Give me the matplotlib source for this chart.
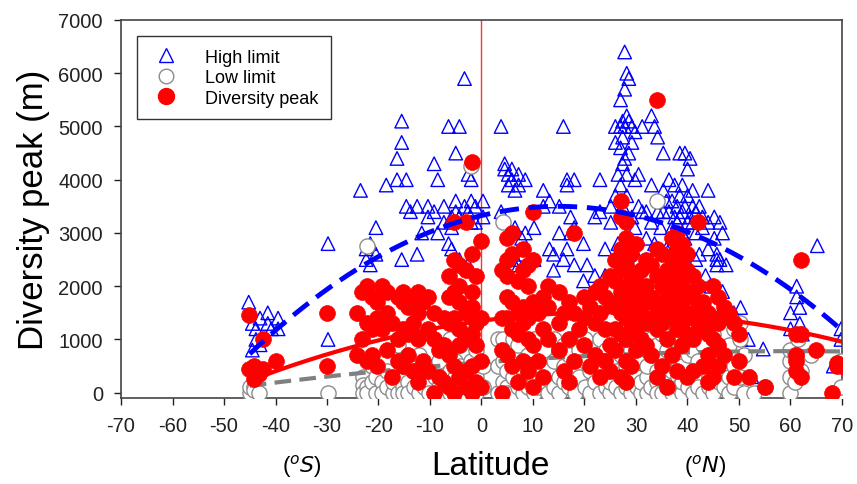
import numpy as np
import matplotlib
matplotlib.use("Agg")
import matplotlib.pyplot as plt
from matplotlib.lines import Line2D

plt.rcParams['font.family'] = ['Liberation Sans', 'DejaVu Sans']
plt.rcParams['axes.unicode_minus'] = False

# ---------------- data ----------------
# (latitude, [elevations]) groups
high_groups = [
    (-45.2, [1700]), (-44.5, [1300, 800]), (-43.8, [1200, 1000]), (-43.0, [1400, 900]),
    (-41.5, [1500, 1300]), (-40.8, [1200]), (-39.5, [1400, 1200]),
    (-29.8, [2800, 1000]), (-23.5, [3800]), (-22.4, [2500, 2700]), (-21.6, [2400, 2800]),
    (-20.5, [3100, 2600]), (-18.5, [3900]), (-16.4, [4400, 4000]), (-15.5, [4700, 5100, 2500]),
    (-14.6, [4000, 3500]), (-13.8, [3400]), (-12.5, [3500, 2600]), (-11.6, [3000]),
    (-10.4, [3300, 3500]), (-9.2, [3400, 4300]), (-8.5, [4000, 3000]), (-7.3, [3200, 3500]),
    (-6.4, [5000, 2800]), (-5.8, [3300, 3100, 2700]), (-5.0, [3400, 4500, 3600]),
    (-4.3, [5000, 3300, 2500]), (-3.3, [5900, 3500]), (-2.6, [4100, 3400, 2400]),
    (-2.0, [4000, 3200, 3600]), (-1.2, [3500, 3200]), (0.3, [3600, 3300]),
    (3.8, [5000, 3400]), (4.5, [4200, 4300]), (5.2, [4100, 3900]), (5.9, [4000, 4200, 2500]),
    (6.5, [3800, 3100]), (7.2, [3900, 4100, 2400]), (7.8, [2900, 2600]), (8.5, [4000, 3000]),
    (10.2, [2500, 3100]), (12.0, [3800, 3500]), (13.2, [3600, 2700]), (14.0, [2300, 2600]),
    (15.1, [3500, 3000]), (15.9, [5000, 2500]), (16.6, [4000, 3900, 2700]), (17.3, [3300, 3000]),
    (18.0, [4000, 3100, 2400]), (19.8, [2100, 2800]), (20.5, [2400]), (22.0, [3300, 2200]),
    (23.0, [4000, 3400]), (24.0, [2700, 2200]), (25.1, [3500, 3200]),
    (26.0, [5000, 4700, 3700]), (26.5, [4100, 2800, 2300]), (27.0, [5500, 5000, 4600, 3900]),
    (27.4, [5100, 4800, 4300, 3500]), (27.8, [6400, 5700, 5000, 4400]),
    (28.2, [6000, 5200, 4100, 3700]), (28.6, [5900, 5100, 4500, 2600]),
    (29.2, [5000, 4700, 3300]), (29.8, [4900, 4000, 3100]), (30.5, [4100, 3500, 2500]),
    (31.2, [5000, 3400]), (32.0, [3400, 2900, 2500]), (33.0, [5200, 3900, 3200]),
    (33.6, [5000, 2800]), (34.2, [4800, 3400, 2700]), (34.8, [3100, 2200, 1800]),
    (35.3, [4500, 3800, 3400]), (35.9, [3600, 2700]), (36.4, [4000, 3400]),
    (37.0, [3600, 3100, 2800]), (37.5, [3900, 3300, 3000]), (38.0, [3500, 3200, 1800]),
    (38.5, [4500, 3700, 3300]), (39.0, [3900, 3400, 3000]), (39.5, [4500, 3500, 2900]),
    (40.0, [4200, 3700, 3200]), (40.5, [4400, 3300, 2200]), (41.0, [3800, 3200, 3500]),
    (41.6, [3400, 3000, 2500]), (42.3, [3500, 2600]), (42.9, [3300, 3100]), (43.5, [2200]),
    (44.0, [3800, 3200, 2700]), (44.6, [2000, 1500]), (45.2, [3300, 2900]),
    (45.7, [2600, 2500, 2400]), (46.3, [3200, 2500]), (46.8, [1900, 3000]), (47.5, [2400]),
    (49.0, [1500]), (49.6, [1200]), (50.3, [1600, 1000]), (51.8, [1000]), (52.5, [300]),
    (54.7, [820]), (60.0, [1500, 1200]), (60.6, [900, 800]), (61.2, [1800, 2000]),
    (61.8, [1600, 1300]), (62.3, [1100]), (65.2, [2760]), (68.3, [500]), (69.8, [1200, 1000]),
]

low_groups = [
    (-45.0, [0, 100]), (-44.2, [100, 50]), (-43.3, [0]), (-29.8, [0]),
    (-23.0, [300, 150, 0]), (-22.2, [100, 0, 2750]), (-21.3, [200, 500]), (-20.4, [0, 300]),
    (-19.4, [200, 0]), (-18.3, [100, 400]), (-17.2, [0, 200]), (-16.2, [300, 0, 900]),
    (-15.3, [500, 100, 0]), (-14.2, [200, 0]), (-13.1, [400, 100]), (-12.2, [700, 0, 300]),
    (-11.2, [100, 500]), (-10.1, [200, 0]), (-9.1, [500, 300, 0]), (-8.2, [100, 600]),
    (-7.1, [0, 200, 800]), (-6.1, [400, 100, 1000, 0]), (-5.2, [300, 100, 600]),
    (-4.1, [0, 500, 900]), (-3.1, [200, 1100, 0]), (-2.0, [100, 600, 4250]), (-1.1, [300, 0, 800]),
    (0.2, [100, 500]), (3.2, [0, 500, 1000]), (4.1, [200, 600, 1000, 0, 3200]),
    (5.0, [100, 400, 800, 0]), (6.1, [300, 0, 700, 1000]), (7.0, [500, 100, 900]),
    (8.1, [200, 0, 600]), (9.0, [400, 100, 700]), (10.1, [0, 300, 1000]), (11.0, [500, 100]),
    (12.1, [200, 800]), (13.0, [0, 400]), (14.1, [600, 100, 1000]), (15.0, [300, 0]),
    (16.1, [500, 200, 900]), (17.0, [100, 700]), (18.1, [0, 400]), (19.0, [300, 800]),
    (20.1, [100, 600, 1000]), (21.0, [0, 400]), (22.1, [200, 700]), (23.0, [0, 500, 1000]),
    (24.1, [300, 100, 800]), (25.0, [0, 600, 200]), (26.1, [400, 900, 100]),
    (27.0, [0, 300, 700, 1200]), (28.1, [500, 100, 1000, 2200]), (29.0, [200, 0, 800, 600]),
    (30.1, [400, 100, 900, 300]), (31.0, [0, 600, 200, 1100]), (32.1, [300, 800, 500, 0]),
    (33.0, [100, 700, 1000]), (34.1, [400, 200, 0, 900, 3600]), (35.0, [600, 300, 1100, 0]),
    (36.1, [200, 800, 500, 100]), (37.0, [0, 400, 1000, 700]), (38.1, [300, 600, 100, 1200]),
    (39.0, [0, 500, 900, 200]), (40.1, [700, 300, 1000, 100]), (41.0, [0, 400, 800]),
    (42.1, [200, 600, 100]), (43.0, [500, 0, 900]), (44.1, [300, 700, 100]),
    (45.0, [0, 400, 1100]), (46.1, [200, 600]), (47.0, [100, 800]), (48.1, [300, 900, 0]),
    (49.0, [500, 1200, 100]), (50.1, [1000, 1300, 300]), (51.0, [700, 0]), (53.0, [0]),
    (55.1, [100]), (60.0, [0, 300, 600, 800]), (60.8, [700, 200]), (61.4, [1000]),
    (62.1, [400, 1100]), (64.0, [700]), (68.2, [0]), (69.9, [0, 600, 100]),
]

peak_groups = [
    (-45.2, [1450, 450]), (-44.2, [500, 250]), (-43.3, [350]), (-42.4, [1000, 450]),
    (-40.0, [600]), (-30.0, [1500, 500]), (-24.2, [700, 1500]), (-23.2, [1900, 1000]),
    (-22.3, [2000, 1300, 600]), (-21.3, [1800, 1200, 700]),
    (-20.3, [1700, 1400, 500]), (-19.3, [2000, 1200]),
    (-18.3, [1900, 1500, 800]), (-17.3, [1300, 300]),
    (-16.3, [1800, 1000, 600]), (-15.3, [1900, 1700, 1200, 500]),
    (-14.3, [1600, 1100, 700]), (-13.3, [1800, 1300, 400]),
    (-12.3, [1900, 1500, 1000, 200]), (-11.3, [1700, 600]),
    (-10.3, [1800, 1200, 400]), (-9.3, [1500, 1000, 0]), (-8.3, [800, 300]),
    (-7.3, [1400, 900, 200]), (-6.3, [2200, 1800, 1300, 700, 100]),
    (-5.3, [3200, 2500, 1900, 1400, 500, 0]),
    (-4.3, [2400, 2000, 1700, 1200, 900, 300]),
    (-3.0, [3200, 2300, 1500, 1000, 400, 100]),
    (-1.8, [4330, 2600, 1900, 1600, 1100, 500, 0]),
    (-1.0, [2200, 1300, 900, 200]), (0.0, [2850, 1400, 600, 100]),
    (4.0, [2300, 1400, 800, 0]),
    (5.0, [2900, 2500, 2200, 1800, 1400, 700]),
    (6.0, [3000, 2600, 1700, 1200, 500]), (7.0, [2100, 1500, 1100, 200]),
    (8.0, [2700, 2300, 1600, 1300, 600]), (9.0, [2400, 2000, 1400, 1000, 400]),
    (10.0, [3400, 2500, 1700, 900, 100]), (11.0, [1500, 600]),
    (12.0, [1800, 1200, 300]), (13.0, [2000, 1600, 1000]), (15.0, [1900, 1300, 800]),
    (16.0, [1500, 400]), (17.0, [1700, 1000, 200]), (18.0, [3000, 1500, 600]),
    (19.0, [1200]), (20.0, [1800, 1400, 900]), (21.0, [1600, 500]),
    (22.0, [1900, 1300, 700]), (23.0, [2000, 1500, 300]), (24.0, [1800, 1200, 600]),
    (25.0, [2200, 1700, 900, 400]), (26.0, [2500, 2100, 1600, 1200, 800]),
    (27.0, [3600, 3300, 2700, 2300, 1900, 1500, 1100, 300]),
    (28.0, [3200, 2900, 2400, 2000, 1700, 1400, 1000, 600, 200]),
    (29.0, [2600, 2200, 1800, 1300, 500]), (30.0, [2800, 2100, 1600, 1200, 800]),
    (31.0, [2300, 1900, 1500, 1000]), (32.0, [2500, 2000, 1700, 1300, 900]),
    (33.0, [2400, 1800, 1400, 700]), (34.0, [5500, 2700, 2200, 1600, 1200, 300]),
    (35.0, [2600, 2000, 1700, 1300, 500]), (36.0, [2300, 1900, 1500, 1000, 100]),
    (37.0, [2900, 2500, 2100, 1800, 1400, 700]),
    (38.0, [3000, 2700, 2200, 1900, 1600, 1200, 400]),
    (39.0, [2800, 2400, 2000, 1700, 1300, 900]), (40.0, [2600, 2300, 1900, 1500, 1100, 300]),
    (41.0, [2200, 1800, 1400, 1000, 400]), (42.0, [3200, 2000, 1600, 1200]),
    (43.0, [1700, 1300, 500]), (44.0, [1500, 1100, 700, 200]),
    (45.0, [2000, 1400, 1000, 300]), (46.0, [1800, 1300, 900, 500]),
    (47.0, [1600, 1500, 700]), (48.0, [1500, 1400]), (49.0, [1300, 300]),
    (50.0, [1100, 600]), (52.0, [300]), (55.0, [100]), (61.0, [1100, 600, 400, 700]),
    (62.0, [2500, 1100, 300]), (65.0, [800]), (68.0, [0]), (69.0, [550, 500]), (70.0, [500]),
]

# quadratic trend curves (c2, c1, c0) and their latitude span
high_fit = [-0.77, 23.1, 3326.75]
low_fit = [-0.059, 7.08, 567.6]
peak_fit = [-0.2662, 13.02, 1350.0]
fit_span = [-45, 70]

x_ticks = [-70, -60, -50, -40, -30, -20, -10, 0, 10, 20, 30, 40, 50, 60, 70]
y_ticks = [0, 1000, 2000, 3000, 4000, 5000, 6000, 7000]


def expand(groups):
    xs, ys = [], []
    for lat, vals in groups:
        for v in vals:
            xs.append(lat)
            ys.append(v)
    return np.array(xs, float), np.array(ys, float)


hx, hy = expand(high_groups)
lx, ly = expand(low_groups)
px, py = expand(peak_groups)

fig = plt.figure(figsize=(8.57, 4.85), dpi=100)
ax = fig.add_axes([121 / 857, 1 - 399 / 485, 721 / 857, 378 / 485])

ax.axvline(0, color='#ff3333', lw=1.0, zorder=1)

ax.scatter(hx, hy, marker='^', s=95, facecolors='none', edgecolors='#0000ff',
           linewidths=1.0, zorder=2)
ax.scatter(lx, ly, marker='o', s=120, facecolors='white', edgecolors='#8c8c8c',
           linewidths=1.0, zorder=3)

xx = np.linspace(fit_span[0], fit_span[1], 200)
ax.plot(xx, np.polyval(low_fit, xx), color='#808080', lw=3, ls=(0, (4, 2)), zorder=3.5)

ax.scatter(px, py, marker='o', s=130, facecolors='#ff0000', edgecolors='#ff0000',
           linewidths=0.5, zorder=4)

ax.plot(xx, np.polyval(peak_fit, xx), color='#ff0000', lw=3, zorder=5)
ax.plot(xx, np.polyval(high_fit, xx), color='#0000ff', lw=3.5, ls=(0, (4, 2)), zorder=5)

ax.set_xlim(-70, 70)
ax.set_ylim(-100, 7000)
ax.set_xticks(x_ticks)
ax.set_yticks(y_ticks)
ax.tick_params(axis='both', direction='out', length=5, width=1, labelsize=14.5,
               colors='#222222', pad=8)
for s in ax.spines.values():
    s.set_color('#444444')
    s.set_linewidth(1.2)

ax.set_ylabel('Diversity peak (m)', fontsize=25, labelpad=6)
fig.text(490 / 857, 1 - 467 / 485, 'Latitude', fontsize=24, ha='center', va='center')
fig.text(302 / 857, 1 - 466 / 485, r'($^{o}$$\it{S}$)', fontsize=16, ha='center', va='center')
fig.text(705 / 857, 1 - 466 / 485, r'($^{o}$$\it{N}$)', fontsize=16, ha='center', va='center')

handles = [
    Line2D([], [], ls='none', marker='^', ms=9.5, mfc='none', mec='#0000ff', mew=1.0),
    Line2D([], [], ls='none', marker='o', ms=10.5, mfc='white', mec='#8c8c8c', mew=1.0),
    Line2D([], [], ls='none', marker='o', ms=11.5, mfc='#ff0000', mec='#ff0000'),
]
leg = ax.legend(handles, ['High limit', 'Low limit', 'Diversity peak'], loc='upper left',
                bbox_to_anchor=(0.022, 0.958), borderaxespad=0, fontsize=13,
                frameon=True, fancybox=False, edgecolor='#333333', framealpha=1,
                handletextpad=1.3, labelspacing=0.2, borderpad=0.7, handlelength=1.8)
leg.get_frame().set_linewidth(1.0)

fig.savefig('out.png', dpi=100)
